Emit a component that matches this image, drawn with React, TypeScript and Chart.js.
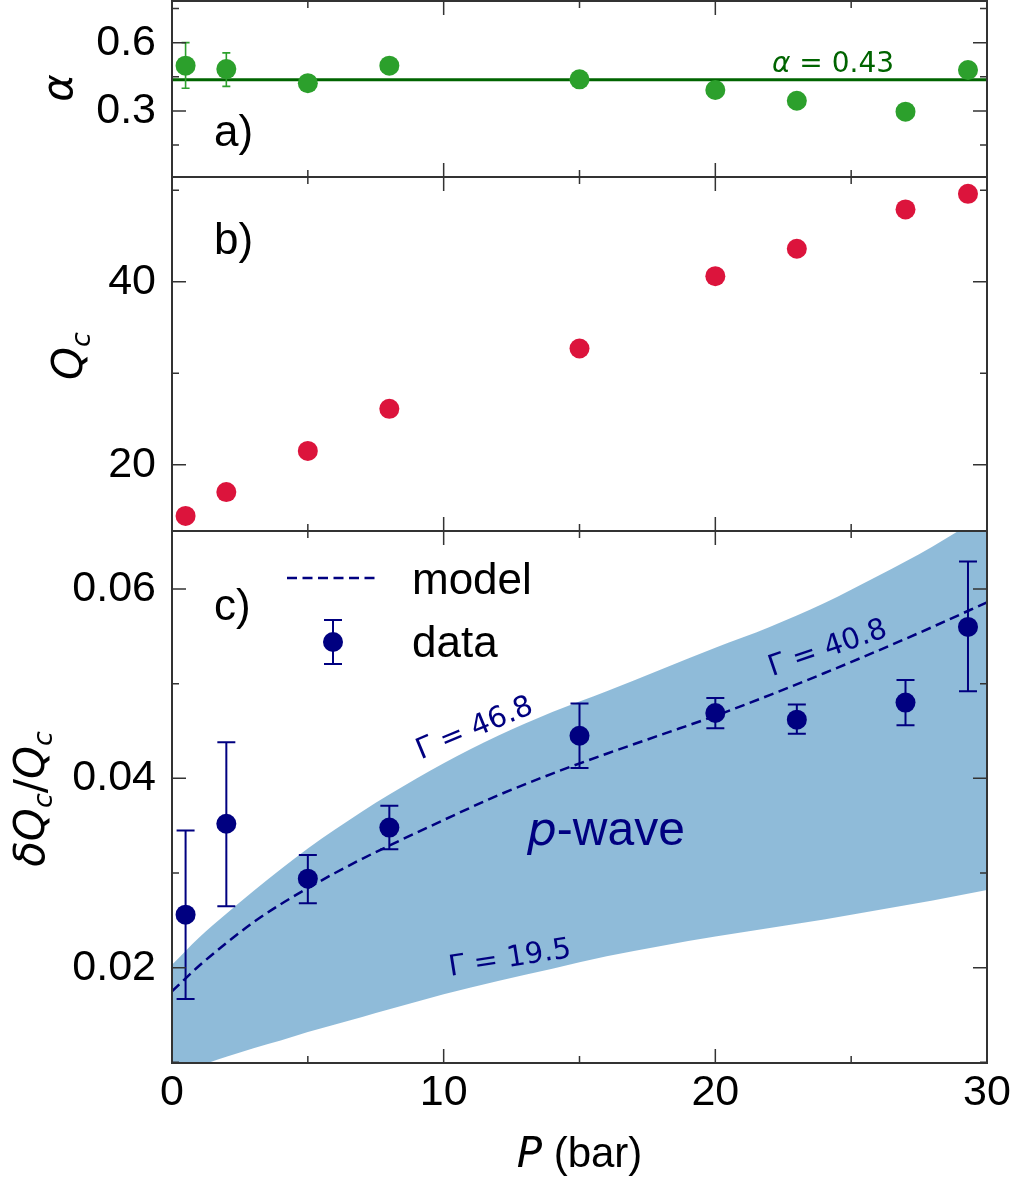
import React, { useEffect, useRef } from "react";
import { Chart, registerables } from "chart.js";

Chart.register(...registerables);

// ---------------- data ----------------
const PRESSURE = [0.5, 2, 5, 8, 15, 20, 23, 27, 29.3];

const ALPHA = [0.499, 0.484, 0.422, 0.499, 0.439, 0.392, 0.345, 0.297, 0.48];
const ALPHA_LO = [0.4, 0.408, null, null, null, null, null, null, null];
const ALPHA_HI = [0.6, 0.555, null, null, null, null, null, null, null];
const ALPHA_FIT = 0.437;

const QC = [14.4, 17.0, 21.5, 26.1, 32.7, 40.6, 43.6, 47.9, 49.6];

const DQ = [0.0256, 0.0352, 0.0294, 0.0348, 0.0445, 0.0469, 0.0462, 0.048, 0.056];
const DQ_LO = [0.0167, 0.0265, 0.0268, 0.0325, 0.0411, 0.0453, 0.0447, 0.0456, 0.0492];
const DQ_HI = [0.0345, 0.0438, 0.0319, 0.0371, 0.0479, 0.0485, 0.0478, 0.0504, 0.0629];

const P_CURVE = [0, 1, 2, 3, 4, 5, 6, 7, 8, 10, 12, 14, 16, 18, 20, 22, 24, 26, 28, 30];
const MODEL = [0.0175, 0.0202, 0.0226, 0.0248, 0.0267, 0.0284, 0.03, 0.0315, 0.0329, 0.0356, 0.0382, 0.0405, 0.0426, 0.0446, 0.0466, 0.0488, 0.0511, 0.0535, 0.056, 0.0586];
const BAND_UPPER = [0.0203, 0.0232, 0.0257, 0.0281, 0.0304, 0.0326, 0.0346, 0.0365, 0.0383, 0.0416, 0.0445, 0.047, 0.0492, 0.0515, 0.0538, 0.056, 0.0585, 0.0614, 0.0645, 0.068];
const BAND_LOWER = [0.0085, 0.0096, 0.0106, 0.0115, 0.0123, 0.0132, 0.014, 0.0148, 0.0156, 0.0172, 0.0186, 0.0199, 0.0212, 0.0223, 0.0233, 0.0242, 0.0251, 0.0261, 0.0271, 0.0282];

const X_MAJOR = [0, 10, 20, 30];
const X_MINOR = [5, 15, 25];
const A_MAJOR = [0.3, 0.6];
const A_MINOR = [0.15, 0.45, 0.75];
const B_MAJOR = [20, 40];
const B_MINOR = [30, 50];
const C_MAJOR = [0.02, 0.04, 0.06];
const C_MINOR = [0.01, 0.03, 0.05];

// ---------------- styles ----------------
const TICK_FAMILY = '"Liberation Sans", Arial, sans-serif';
const MATH_FAMILY = '"DejaVu Sans", sans-serif';
const NAVY = "#000080";
const GREEN = "#2ca02c";
const DARKGREEN = "#006400";
const CRIMSON = "#dc143c";
const BAND = "rgba(31,119,180,0.5)";

type Run = { t: string; f: string; dy?: number };

function drawRuns(ctx: CanvasRenderingContext2D, list: Run[], x: number, y: number, align: "left" | "center") {
  let total = 0;
  for (const r of list) {
    ctx.font = r.f;
    total += ctx.measureText(r.t).width;
  }
  let cx = align === "center" ? x - total / 2 : x;
  ctx.textAlign = "left";
  ctx.textBaseline = "alphabetic";
  for (const r of list) {
    ctx.font = r.f;
    ctx.fillText(r.t, cx, y + (r.dy || 0));
    cx += ctx.measureText(r.t).width;
  }
}

function rotatedText(ctx: CanvasRenderingContext2D, text: string, font: string, cx: number, cy: number, deg: number) {
  ctx.save();
  ctx.translate(cx, cy);
  ctx.rotate((deg * Math.PI) / 180);
  ctx.font = font;
  ctx.textAlign = "center";
  ctx.textBaseline = "middle";
  ctx.fillText(text, 0, 0);
  ctx.restore();
}

function yTitle(ctx: CanvasRenderingContext2D, list: Run[], baseX: number, cy: number) {
  ctx.save();
  ctx.translate(baseX, cy);
  ctx.rotate(-Math.PI / 2);
  ctx.fillStyle = "#000";
  drawRuns(ctx, list, 0, 0, "center");
  ctx.restore();
}

interface ErrSpec {
  dsIndex: number;
  x: number[];
  lo: (number | null)[];
  hi: (number | null)[];
  color: string;
  width: number;
  cap: number;
}

interface PanelSpec {
  top: number;
  height: number;
  padTop: number;
  padBottom: number;
  yMin: number;
  yMax: number;
  yMajor: number[];
  yMinor: number[];
  fmt: (v: number) => string;
  showX: boolean;
  datasets: any[];
  errors?: ErrSpec;
  decorate: (ctx: CanvasRenderingContext2D) => void;
}

function drawErrors(chart: any, e: ErrSpec) {
  const { ctx, chartArea: a, scales } = chart;
  const xs = scales.x;
  const ys = scales.y;
  ctx.save();
  ctx.beginPath();
  ctx.rect(a.left, a.top, a.right - a.left, a.bottom - a.top);
  ctx.clip();
  ctx.strokeStyle = e.color;
  ctx.lineWidth = e.width;
  ctx.beginPath();
  e.x.forEach((xv, i) => {
    const lo = e.lo[i];
    const hi = e.hi[i];
    if (lo == null || hi == null) return;
    const px = xs.getPixelForValue(xv);
    const p1 = ys.getPixelForValue(lo);
    const p2 = ys.getPixelForValue(hi);
    ctx.moveTo(px, p1);
    ctx.lineTo(px, p2);
    ctx.moveTo(px - e.cap, p1);
    ctx.lineTo(px + e.cap, p1);
    ctx.moveTo(px - e.cap, p2);
    ctx.lineTo(px + e.cap, p2);
  });
  ctx.stroke();
  ctx.restore();
}

function drawFrame(chart: any, spec: PanelSpec) {
  const { ctx, chartArea: a, scales } = chart;
  const xs = scales.x;
  const ys = scales.y;
  ctx.save();
  ctx.strokeStyle = "#333";
  ctx.lineWidth = 1.5;
  ctx.beginPath();
  const xt = (v: number, len: number) => {
    const px = xs.getPixelForValue(v);
    ctx.moveTo(px, a.bottom);
    ctx.lineTo(px, a.bottom - len);
    ctx.moveTo(px, a.top);
    ctx.lineTo(px, a.top + len);
  };
  const yt = (v: number, len: number) => {
    const py = ys.getPixelForValue(v);
    if (py < a.top - 0.5 || py > a.bottom + 0.5) return;
    ctx.moveTo(a.left, py);
    ctx.lineTo(a.left + len, py);
    ctx.moveTo(a.right, py);
    ctx.lineTo(a.right - len, py);
  };
  X_MAJOR.forEach((v) => xt(v, 14));
  X_MINOR.forEach((v) => xt(v, 7));
  spec.yMajor.forEach((v) => yt(v, 14));
  spec.yMinor.forEach((v) => yt(v, 7));
  ctx.stroke();
  ctx.lineWidth = 2;
  ctx.strokeRect(a.left, a.top, a.right - a.left, a.bottom - a.top);
  ctx.restore();
}

function buildConfig(spec: PanelSpec): any {
  const plugin = {
    id: "panelDecor",
    beforeDatasetDraw(chart: any, args: any) {
      if (spec.errors && args.index === spec.errors.dsIndex) drawErrors(chart, spec.errors);
    },
    afterDraw(chart: any) {
      drawFrame(chart, spec);
      const ctx = chart.ctx as CanvasRenderingContext2D;
      ctx.save();
      ctx.translate(0, -spec.top);
      spec.decorate(ctx);
      ctx.restore();
    },
  };
  return {
    type: "line",
    data: { datasets: spec.datasets },
    options: {
      animation: false,
      responsive: false,
      devicePixelRatio: 1,
      events: [],
      layout: {
        autoPadding: false,
        padding: { left: 0, right: 29, top: spec.padTop, bottom: spec.padBottom },
      },
      plugins: { legend: { display: false }, tooltip: { enabled: false } },
      scales: {
        x: {
          type: "linear",
          min: 0,
          max: 30,
          display: spec.showX,
          afterBuildTicks: (s: any) => {
            s.ticks = X_MAJOR.map((v) => ({ value: v }));
          },
          ticks: {
            font: { family: TICK_FAMILY, size: 43 },
            color: "#000",
            padding: 4,
            maxRotation: 0,
            autoSkip: false,
            callback: (v: any) => String(v),
          },
          grid: { display: false, drawTicks: false },
          border: { display: false },
          afterFit: (s: any) => {
            s.height = spec.showX ? 116 : 0;
            s.paddingLeft = 0;
            s.paddingRight = 0;
          },
        },
        y: {
          type: "linear",
          min: spec.yMin,
          max: spec.yMax,
          afterBuildTicks: (s: any) => {
            s.ticks = spec.yMajor.map((v) => ({ value: v }));
          },
          ticks: {
            font: { family: TICK_FAMILY, size: 43 },
            color: "#000",
            padding: 16,
            callback: (v: any) => spec.fmt(Number(v)),
          },
          grid: { display: false, drawTicks: false },
          border: { display: false },
          afterFit: (s: any) => {
            s.width = 172;
            s.paddingTop = 0;
            s.paddingBottom = 0;
          },
        },
      },
    },
    plugins: [plugin],
  };
}

const pts = (xs: number[], ys: number[]) => xs.map((x, i) => ({ x, y: ys[i] }));

// ---------------- panels ----------------
const PANEL_A: PanelSpec = {
  top: 0,
  height: 181,
  padTop: 1,
  padBottom: 4,
  yMin: 0.01,
  yMax: 0.783,
  yMajor: A_MAJOR,
  yMinor: A_MINOR,
  fmt: (v) => v.toFixed(1),
  showX: false,
  datasets: [
    {
      label: "alpha",
      data: pts(PRESSURE, ALPHA),
      showLine: false,
      pointRadius: 10,
      pointHoverRadius: 10,
      pointBackgroundColor: GREEN,
      pointBorderColor: GREEN,
      pointBorderWidth: 0,
      order: 0,
    },
    {
      label: "fit",
      data: [
        { x: 0, y: ALPHA_FIT },
        { x: 30, y: ALPHA_FIT },
      ],
      borderColor: DARKGREEN,
      borderWidth: 3,
      pointRadius: 0,
      fill: false,
      order: 1,
    },
  ],
  errors: { dsIndex: 0, x: PRESSURE, lo: ALPHA_LO, hi: ALPHA_HI, color: GREEN, width: 1.6, cap: 4 },
  decorate: (ctx) => {
    yTitle(ctx, [{ t: "α", f: `italic 42px ${MATH_FAMILY}` }], 72, 88);
    ctx.fillStyle = "#000";
    drawRuns(ctx, [{ t: "a)", f: `44px ${TICK_FAMILY}` }], 214, 146, "left");
    ctx.fillStyle = DARKGREEN;
    drawRuns(
      ctx,
      [
        { t: "α", f: `italic 28px ${MATH_FAMILY}` },
        { t: " = 0.43", f: `28px ${MATH_FAMILY}` },
      ],
      772,
      72,
      "left"
    );
  },
};

const PANEL_B: PanelSpec = {
  top: 174,
  height: 361,
  padTop: 3,
  padBottom: 4,
  yMin: 12.75,
  yMax: 51.44,
  yMajor: B_MAJOR,
  yMinor: B_MINOR,
  fmt: (v) => String(Math.round(v)),
  showX: false,
  datasets: [
    {
      label: "Qc",
      data: pts(PRESSURE, QC),
      showLine: false,
      pointRadius: 10,
      pointHoverRadius: 10,
      pointBackgroundColor: CRIMSON,
      pointBorderColor: CRIMSON,
      pointBorderWidth: 0,
    },
  ],
  decorate: (ctx) => {
    yTitle(
      ctx,
      [
        { t: "Q", f: `italic 42px ${MATH_FAMILY}` },
        { t: "c", f: `italic 27px ${MATH_FAMILY}`, dy: 8 },
      ],
      82,
      356
    );
    ctx.fillStyle = "#000";
    drawRuns(ctx, [{ t: "b)", f: `44px ${TICK_FAMILY}` }], 214, 254, "left");
  },
};

const PANEL_C: PanelSpec = {
  top: 528,
  height: 651,
  padTop: 3,
  padBottom: 0,
  yMin: 0.009931,
  yMax: 0.066128,
  yMajor: C_MAJOR,
  yMinor: C_MINOR,
  fmt: (v) => v.toFixed(2),
  showX: true,
  datasets: [
    {
      label: "data",
      data: pts(PRESSURE, DQ),
      showLine: false,
      pointRadius: 10,
      pointHoverRadius: 10,
      pointBackgroundColor: NAVY,
      pointBorderColor: NAVY,
      pointBorderWidth: 0,
      order: 0,
    },
    {
      label: "model",
      data: pts(P_CURVE, MODEL),
      borderColor: NAVY,
      borderWidth: 2.5,
      borderDash: [10, 5.5],
      pointRadius: 0,
      cubicInterpolationMode: "monotone",
      fill: false,
      order: 1,
    },
    {
      label: "band upper",
      data: pts(P_CURVE, BAND_UPPER),
      borderWidth: 0,
      borderColor: "rgba(0,0,0,0)",
      backgroundColor: BAND,
      pointRadius: 0,
      cubicInterpolationMode: "monotone",
      fill: "+1",
      order: 2,
    },
    {
      label: "band lower",
      data: pts(P_CURVE, BAND_LOWER),
      borderWidth: 0,
      borderColor: "rgba(0,0,0,0)",
      pointRadius: 0,
      cubicInterpolationMode: "monotone",
      fill: false,
      order: 3,
    },
  ],
  errors: { dsIndex: 0, x: PRESSURE, lo: DQ_LO, hi: DQ_HI, color: NAVY, width: 2, cap: 9 },
  decorate: (ctx) => {
    // y title
    yTitle(
      ctx,
      [
        { t: "δ", f: `italic 42px ${MATH_FAMILY}` },
        { t: "Q", f: `italic 42px ${MATH_FAMILY}` },
        { t: "c", f: `italic 27px ${MATH_FAMILY}`, dy: 8 },
        { t: "/", f: `42px ${MATH_FAMILY}` },
        { t: "Q", f: `italic 42px ${MATH_FAMILY}` },
        { t: "c", f: `italic 27px ${MATH_FAMILY}`, dy: 8 },
      ],
      44,
      799
    );
    // x title
    ctx.fillStyle = "#000";
    drawRuns(
      ctx,
      [
        { t: "P", f: `italic 42px ${MATH_FAMILY}` },
        { t: " (bar)", f: `42px ${TICK_FAMILY}` },
      ],
      579.5,
      1167,
      "center"
    );
    // panel label
    drawRuns(ctx, [{ t: "c)", f: `44px ${TICK_FAMILY}` }], 214, 620, "left");
    // legend
    ctx.save();
    ctx.strokeStyle = NAVY;
    ctx.lineWidth = 2.5;
    ctx.setLineDash([10, 5.5]);
    ctx.beginPath();
    ctx.moveTo(287, 578);
    ctx.lineTo(378, 578);
    ctx.stroke();
    ctx.setLineDash([]);
    ctx.lineWidth = 2;
    ctx.beginPath();
    ctx.moveTo(333, 620);
    ctx.lineTo(333, 664);
    ctx.moveTo(324, 620);
    ctx.lineTo(342, 620);
    ctx.moveTo(324, 664);
    ctx.lineTo(342, 664);
    ctx.stroke();
    ctx.fillStyle = NAVY;
    ctx.beginPath();
    ctx.arc(333, 642, 10, 0, Math.PI * 2);
    ctx.fill();
    ctx.restore();
    ctx.fillStyle = "#000";
    drawRuns(ctx, [{ t: "model", f: `44px ${TICK_FAMILY}` }], 412, 594, "left");
    drawRuns(ctx, [{ t: "data", f: `44px ${TICK_FAMILY}` }], 412, 657, "left");
    // annotations
    ctx.fillStyle = NAVY;
    rotatedText(ctx, "Γ = 46.8", `29px ${MATH_FAMILY}`, 475, 729, -22.5);
    rotatedText(ctx, "Γ = 40.8", `29px ${MATH_FAMILY}`, 828, 649, -19);
    rotatedText(ctx, "Γ = 19.5", `29px ${MATH_FAMILY}`, 510, 959, -9);
    drawRuns(
      ctx,
      [
        { t: "p", f: `italic 47px ${MATH_FAMILY}` },
        { t: "-wave", f: `48px ${TICK_FAMILY}` },
      ],
      527,
      845,
      "left"
    );
  },
};

function PanelChart({ spec }: { spec: PanelSpec }) {
  const ref = useRef<HTMLCanvasElement>(null);
  useEffect(() => {
    if (!ref.current) return;
    const chart = new Chart(ref.current, buildConfig(spec));
    return () => chart.destroy();
  }, [spec]);
  return (
    <canvas
      ref={ref}
      width={1016}
      height={spec.height}
      style={{ position: "absolute", left: 0, top: spec.top, width: 1016, height: spec.height }}
    />
  );
}

export default function App() {
  return (
    <div
      style={{
        position: "absolute",
        left: 0,
        top: 0,
        width: 1016,
        height: 1179,
        background: "#fff",
        overflow: "hidden",
      }}
    >
      <PanelChart spec={PANEL_A} />
      <PanelChart spec={PANEL_B} />
      <PanelChart spec={PANEL_C} />
    </div>
  );
}
